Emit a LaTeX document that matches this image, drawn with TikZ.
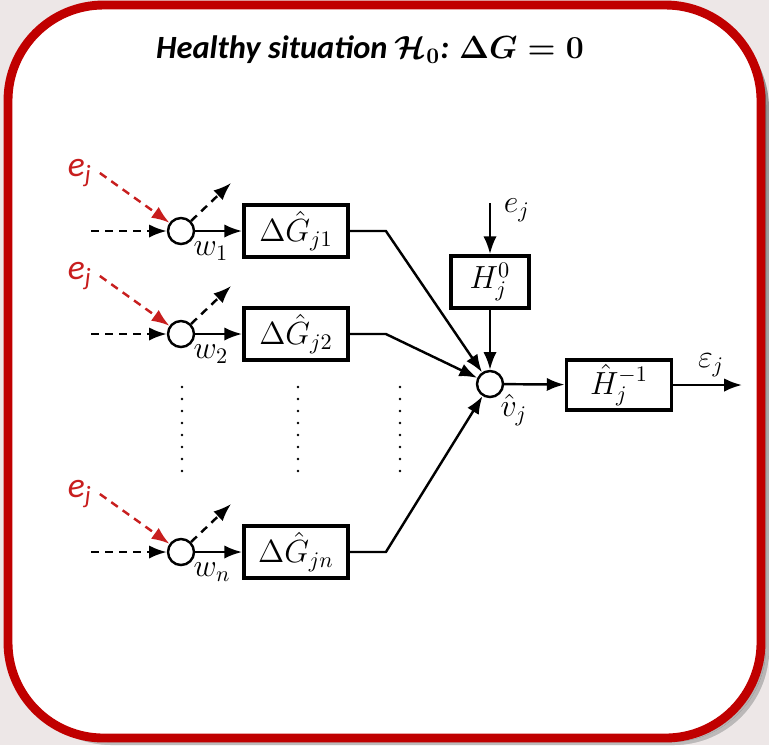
\documentclass[tikz,border=0pt]{standalone}
\usepackage[no-math]{fontspec}
\setmainfont{Carlito}
\usetikzlibrary{arrows.meta}
\definecolor{frame}{RGB}{192,0,0}
\definecolor{excite}{RGB}{200,30,30}
\definecolor{backdrop}{RGB}{237,231,231}
\definecolor{shade}{RGB}{140,140,140}
\tikzset{
  block/.style={draw,line width=1.7pt,minimum height=23.4pt,inner sep=1pt},
  sumnode/.style={draw,circle,line width=1.1pt,minimum size=11.7pt,inner sep=0pt},
  sig/.style={line width=1.1pt,->},
  dsig/.style={sig,dash pattern=on 3.6pt off 2.7pt},
}

\begin{document}
\begin{tikzpicture}[x=0.45pt,y=-0.45pt,>={Latex[length=8pt,width=6pt]},
    font=\fontsize{13.8}{16}\selectfont]
    % frame
    \fill[backdrop] (0,0) rectangle (769,745);
    \fill[shade,opacity=.35,rounded corners=43pt] (16,13) rectangle (769,745);
    \fill[shade,opacity=.6,rounded corners=43pt] (13,10) rectangle (766,742);
    \draw[frame,line width=4pt,fill=white,rounded corners=43pt] (8,5) rectangle (761,738);
    \useasboundingbox (0,0) rectangle (769,745);
    \node[font=\fontsize{14.6}{17}\selectfont\bfseries\itshape] (title) at (370,50)
        {Healthy situation {\boldmath$\mathcal{H}_0$}: {\boldmath$\Delta G = 0$}};

    % output part
    \node[sumnode] (sum) at (490,384) {};
    \node[block,minimum width=35.1pt] (H0) at (490,282) {$H_j^0$};
    \node[block,minimum width=47.3pt,minimum height=22.5pt] (Hinv) at (619,385) {$\hat{H}_j^{-1}$};
    \coordinate (Hin) at (490,203);
    \coordinate (out) at (742,385);
    \node[anchor=west] (eH) at (496,210) {$e_j$};
    \draw[sig] (Hin) -- (H0);
    \draw[sig] (H0) -- (sum);
    \draw[sig] (sum) -- (Hinv);
    \draw[sig] (Hinv) -- (out) node[pos=.55,above] {$\varepsilon_j$};
    \node[anchor=north west,inner sep=0pt] (vhat) at (sum.south east) {$\hat{v}_j$};

    % branches
    \foreach \k/\y in {1/231,2/334,n/552}{
        \node[sumnode] (w\k) at (181,\y) {};
        \node[block,minimum width=46.8pt] (G\k) at (296,\y) {$\Delta\hat{G}_{j\k}$};
        \node[text=excite,font=\fontsize{16}{18}\selectfont\itshape] (e\k) at (80,\y-58) {e\textsubscript{j}};
        \coordinate (in\k) at (91,\y);
        \draw[dsig] (in\k) -- (w\k);
        \draw[dsig,excite] (e\k.east) -- (w\k);
        \draw[dsig] (w\k.45) -- ++(40,-38);
        \draw[sig] (w\k) -- (G\k);
        \node[anchor=north west,inner sep=0pt] (lw\k) at ([xshift=1pt]w\k.south east) {$w_\k$};
        \draw[sig] (G\k.east) -- ++(36,0) -- (sum);
    }

    % dots
    \foreach \x in {182,298,400}
        \draw[line width=1.2pt,line cap=round,dash pattern=on 0pt off 5.4pt] (\x,387) -- (\x,478);
\end{tikzpicture}
\end{document}
